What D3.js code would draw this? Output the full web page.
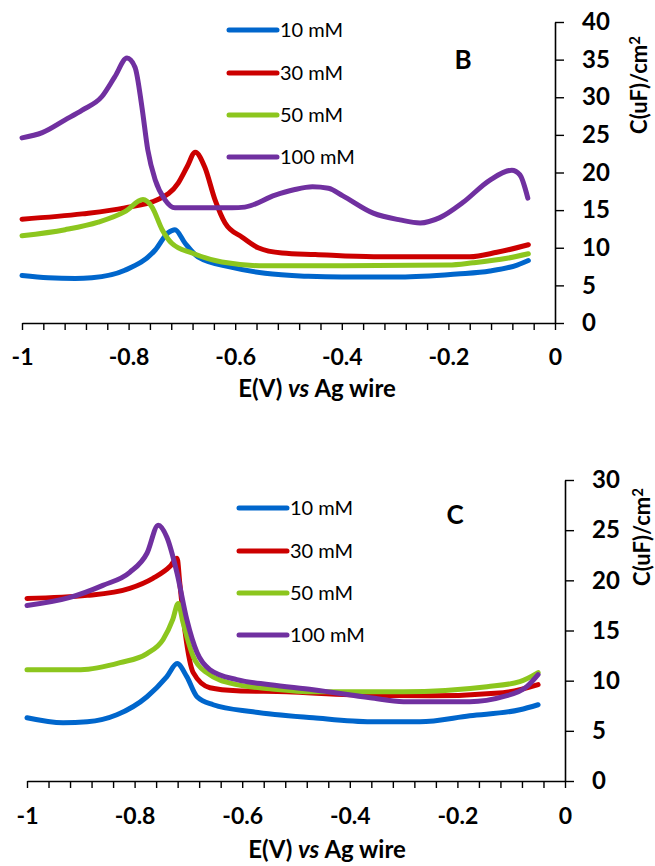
<!DOCTYPE html>
<html>
<head>
<meta charset="utf-8">
<script src="https://cdn.jsdelivr.net/npm/d3@7"></script>
<style>
  html, body { margin: 0; padding: 0; background: #fff; }
  svg { display: block; }
  text { font-family: Lato, "Open Sans", sans-serif; fill: #000; }
</style>
</head>
<body>
<svg id="chart" width="655" height="866"></svg>
<script>
// ---------- DATA ----------
const seriesNames = ["10 mM", "30 mM", "50 mM", "100 mM"];
const seriesColors = ["#0066cc", "#cc0000", "#8cc61e", "#7030a0"];

const xTickValues = [-1, -0.8, -0.6, -0.4, -0.2, 0];
const xTickLabels = ["-1", "-0.8", "-0.6", "-0.4", "-0.2", "0"];
const yTicksB = [0, 5, 10, 15, 20, 25, 30, 35, 40];
const yTicksC = [0, 5, 10, 15, 20, 25, 30];

// Panel B
const bE10  = [-1, -0.951, -0.90, -0.869, -0.807, -0.75, -0.726, -0.713, -0.694, -0.67, -0.606, -0.544, -0.463, -0.40, -0.29, -0.184, -0.122, -0.071, -0.05];
const bC10  = [6.3, 6.0, 5.9, 6.0, 7.0, 9.7, 12.0, 12.4, 10.6, 8.8, 7.4, 6.6, 6.2, 6.1, 6.1, 6.5, 6.9, 7.7, 8.3];
const bE30  = [-1, -0.887, -0.807, -0.745, -0.707, -0.69, -0.675, -0.657, -0.638, -0.619, -0.587, -0.557, -0.512, -0.45, -0.34, -0.16, -0.109, -0.05];
const bC30  = [13.8, 14.5, 15.3, 16.4, 18.6, 20.8, 22.7, 20.7, 16.4, 13.3, 11.4, 10.0, 9.3, 9.1, 8.8, 8.8, 9.4, 10.4];
const bE50  = [-1, -0.919, -0.857, -0.807, -0.773, -0.756, -0.737, -0.719, -0.681, -0.625, -0.544, -0.40, -0.2, -0.154, -0.09, -0.05];
const bC50  = [11.6, 12.4, 13.4, 14.8, 16.4, 15.4, 12.4, 10.6, 9.3, 8.1, 7.6, 7.6, 7.7, 8.0, 8.6, 9.2];
const bE100 = [-1, -0.962, -0.919, -0.887, -0.85, -0.826, -0.803, -0.788, -0.775, -0.764, -0.75, -0.732, -0.713, -0.606, -0.582, -0.525, -0.49, -0.455, -0.425, -0.398, -0.341, -0.291, -0.253, -0.216, -0.173, -0.122, -0.081, -0.066, -0.051];
const bC100 = [24.6, 25.3, 27.0, 28.3, 30.1, 32.7, 35.2, 34.0, 28.7, 23.0, 19.0, 16.4, 15.3, 15.3, 15.4, 17.0, 17.7, 18.1, 17.9, 16.9, 14.6, 13.7, 13.3, 14.0, 16.0, 19.0, 20.3, 19.7, 16.6];

// Panel C
const cE10  = [-1, -0.933, -0.888, -0.833, -0.777, -0.74, -0.721, -0.703, -0.684, -0.654, -0.58, -0.468, -0.36, -0.27, -0.177, -0.084, -0.05];
const cC10  = [6.3, 5.8, 5.9, 6.6, 8.4, 10.4, 11.7, 10.4, 8.4, 7.6, 6.9, 6.3, 5.9, 5.9, 6.5, 7.1, 7.6];
const cE30  = [-1, -0.888, -0.809, -0.766, -0.734, -0.721, -0.716, -0.706, -0.691, -0.66, -0.61, -0.517, -0.40, -0.25, -0.115, -0.05];
const cC30  = [18.2, 18.5, 19.2, 20.2, 21.4, 22.2, 19.7, 14.8, 10.8, 9.3, 9.0, 8.9, 8.6, 8.5, 8.8, 9.6];
const cE50  = [-1, -0.9, -0.827, -0.777, -0.747, -0.729, -0.719, -0.71, -0.691, -0.666, -0.61, -0.548, -0.468, -0.30, -0.145, -0.084, -0.05];
const cC50  = [11.1, 11.1, 11.8, 12.7, 14.1, 16.1, 17.7, 15.8, 12.4, 10.8, 9.6, 9.2, 8.9, 8.9, 9.4, 9.9, 10.8];
const cE100 = [-1, -0.92, -0.859, -0.809, -0.777, -0.756, -0.74, -0.721, -0.703, -0.684, -0.66, -0.61, -0.548, -0.468, -0.362, -0.30, -0.177, -0.115, -0.071, -0.05];
const cC100 = [17.5, 18.3, 19.5, 20.8, 22.7, 25.5, 24.3, 20.7, 16.1, 12.8, 11.1, 10.1, 9.6, 9.1, 8.3, 7.9, 7.9, 8.4, 9.4, 10.6];

// ---------- DRAW ----------
const svg = d3.select("#chart");
const zip = (xs, ys) => xs.map((x, i) => [x, ys[i]]);

function drawPanel(p) {
  const g = svg.append("g");
  const x = d3.scaleLinear().domain([-1, 0]).range([p.x0, p.x1]);
  const y = d3.scaleLinear().domain([0, p.yMax]).range([p.y0, p.y1]);

  // x axis minor ticks
  const minor = d3.range(0, 26).map(i => -1 + i * 0.04);
  const xa = g.append("g").attr("transform", `translate(0,${p.y0})`)
    .call(d3.axisBottom(x).tickValues(minor).tickSize(7).tickSizeOuter(0).tickFormat(""));
  xa.select(".domain").attr("stroke", "#000").attr("stroke-width", 1.6);
  xa.selectAll(".tick line").attr("stroke", "#000").attr("stroke-width", 1.4);

  // x labels
  const xl = g.append("g").attr("transform", `translate(0,${p.y0})`)
    .call(d3.axisBottom(x).tickValues(xTickValues).tickSize(0).tickPadding(p.xPad)
      .tickFormat((d, i) => xTickLabels[i]));
  xl.select(".domain").remove();
  xl.selectAll("text").style("font-size", "23px").style("font-weight", "bold")
    .style("font-family", "Lato, sans-serif").attr("fill", "#000");

  // y axis
  const ya = g.append("g").attr("transform", `translate(${p.x1},0)`)
    .call(d3.axisRight(y).tickValues(p.yTicks).tickSize(9).tickSizeOuter(0).tickPadding(18));
  ya.select(".domain").attr("stroke", "#000").attr("stroke-width", 1.6);
  ya.selectAll(".tick line").attr("stroke", "#000").attr("stroke-width", 1.4);
  ya.selectAll("text").style("font-size", "24px").style("font-weight", "bold")
    .style("font-family", "Lato, sans-serif").attr("fill", "#000");

  // lines
  const line = d3.line().x(d => x(d[0])).y(d => y(d[1])).curve(d3.curveMonotoneX);
  p.series.forEach((s, i) => {
    g.append("path").datum(s).attr("d", line)
      .attr("fill", "none").attr("stroke", seriesColors[i])
      .attr("stroke-width", 5).attr("stroke-linejoin", "round").attr("stroke-linecap", "round");
  });

  // legend
  seriesNames.forEach((n, i) => {
    const ly = p.legY[i];
    g.append("line").attr("x1", p.legX).attr("x2", p.legX + 48).attr("y1", ly).attr("y2", ly)
      .attr("stroke", seriesColors[i]).attr("stroke-width", 5).attr("stroke-linecap", "round");
    g.append("text").attr("x", p.legX + 51).attr("y", ly).attr("dy", "0.35em")
      .style("font-size", "20px").text(n);
  });

  // panel letter
  g.append("text").attr("x", p.letterX).attr("y", p.letterY).attr("dy", "0.35em")
    .attr("text-anchor", "middle").style("font-size", "26px").style("font-weight", "bold").text(p.letter);

  // x title
  const xt = g.append("text").attr("x", p.xtX).attr("y", p.xtY).attr("dy", "0.35em")
    .attr("text-anchor", "middle").style("font-size", "24px").style("font-weight", "bold");
  xt.append("tspan").text("E(V) ");
  xt.append("tspan").style("font-style", "italic").text("vs");
  xt.append("tspan").text(" Ag wire");

  // y title
  const yt = g.append("text").attr("transform", `translate(${p.ytX},${p.ytY}) rotate(-90)`)
    .attr("text-anchor", "middle").style("font-size", "22px").style("font-weight", "bold");
  yt.append("tspan").text("C(uF)/cm");
  yt.append("tspan").attr("dy", "-0.45em").style("font-size", "15px").text("2");
}

drawPanel({
  x0: 22, x1: 555, y0: 323, y1: 22, yMax: 40, yTicks: yTicksB, xPad: 26,
  series: [zip(bE10, bC10), zip(bE30, bC30), zip(bE50, bC50), zip(bE100, bC100)],
  legX: 229, legY: [30, 73, 115, 157],
  letter: "B", letterX: 463, letterY: 60,
  xtX: 317, xtY: 389, ytX: 647, ytY: 85
});

drawPanel({
  x0: 27, x1: 565, y0: 781, y1: 480, yMax: 30, yTicks: yTicksC, xPad: 27,
  series: [zip(cE10, cC10), zip(cE30, cC30), zip(cE50, cC50), zip(cE100, cC100)],
  legX: 239, legY: [508, 551, 593, 635],
  letter: "C", letterX: 455, letterY: 515,
  xtX: 327, xtY: 850, ytX: 650, ytY: 537
});
</script>
</body>
</html>
